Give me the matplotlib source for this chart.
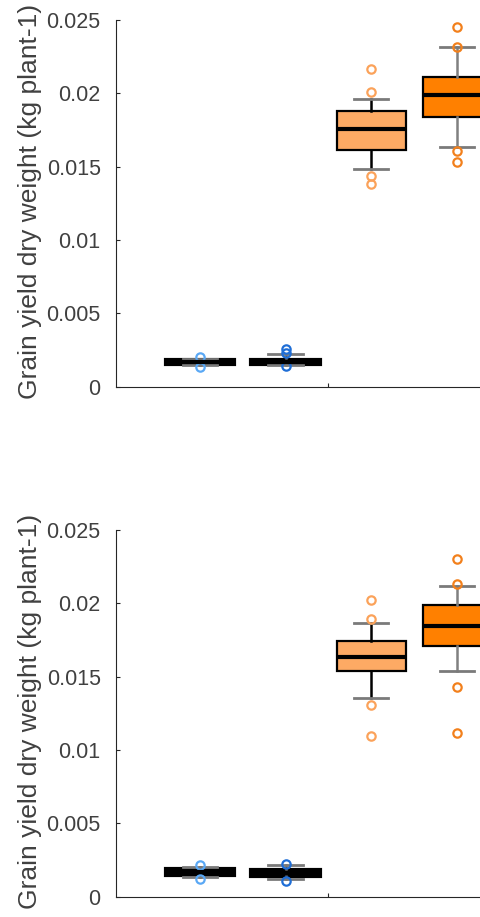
import matplotlib
matplotlib.use('Agg')
import matplotlib.pyplot as plt

plt.rcParams['font.family'] = ['Liberation Sans', 'DejaVu Sans']

# Box statistics (kg per plant)
groups = ['blue light', 'blue dark', 'orange light', 'orange dark']
positions = [1, 2, 3, 4]

# top panel
top_med = [0.00166, 0.00166, 0.01755, 0.01989]
top_q1 = [0.00155, 0.00152, 0.01614, 0.01841]
top_q3 = [0.00180, 0.00180, 0.01882, 0.02113]
top_wlo = [0.00145, 0.00148, 0.01484, 0.01636]
top_whi = [0.00190, 0.00221, 0.01961, 0.02314]
top_fliers = [[0.00205, 0.00136],
              [0.00255, 0.00228, 0.00141],
              [0.02166, 0.02007, 0.01436, 0.01380],
              [0.02454, 0.02314, 0.01609, 0.01534]]

# bottom panel
bot_med = [0.00166, 0.00160, 0.01636, 0.01846]
bot_q1 = [0.00150, 0.00142, 0.01539, 0.01711]
bot_q3 = [0.00190, 0.00180, 0.01743, 0.01989]
bot_wlo = [0.00132, 0.00119, 0.01353, 0.01539]
bot_whi = [0.00200, 0.00216, 0.01864, 0.02118]
bot_fliers = [[0.00216, 0.00121],
              [0.00223, 0.00109],
              [0.02023, 0.01893, 0.01307, 0.01096],
              [0.02300, 0.02132, 0.01432, 0.01114]]

yticks = [0, 0.005, 0.01, 0.015, 0.02, 0.025]
ytick_labels = ['0', '0.005', '0.01', '0.015', '0.02', '0.025']
ylabel = 'Grain yield dry weight (kg plant-1)'

box_colors = ['#6AB0F2', '#2A78D6', '#FDAA64', '#FF8000']
flier_colors = ['#5AA8F5', '#1F6ED6', '#FBA25A', '#F2801C']
whisker_colors = ['#000000', '#555555', '#000000', '#808080']


def draw_panel(ax, med, q1, q3, wlo, whi, fliers):
    stats = []
    for i in range(len(med)):
        stats.append({'med': med[i], 'q1': q1[i], 'q3': q3[i],
                      'whislo': wlo[i], 'whishi': whi[i], 'fliers': fliers[i]})
    bp = ax.bxp(stats, positions=positions, widths=0.8, patch_artist=True,
                showfliers=True,
                boxprops=dict(edgecolor='black', linewidth=1.6),
                medianprops=dict(color='black', linewidth=3),
                capprops=dict(color='#7a7a7a', linewidth=2),
                capwidths=0.4)
    for i, patch in enumerate(bp['boxes']):
        patch.set_facecolor(box_colors[i])
    for i in range(len(med)):
        for w in bp['whiskers'][2 * i:2 * i + 2]:
            w.set_color(whisker_colors[i])
            w.set_linewidth(1.8)
        f = bp['fliers'][i]
        f.set_marker('o')
        f.set_markersize(6)
        f.set_markerfacecolor('none')
        f.set_markeredgecolor(flier_colors[i])
        f.set_markeredgewidth(1.6)
    # blue boxes are so flat they look like thick black bars
    for i in range(2):
        bp['boxes'][i].set_linewidth(3)

    ax.set_xlim(0.02, 5)
    ax.set_ylim(0, 0.025)
    ax.set_yticks(yticks)
    ax.set_yticklabels(ytick_labels)
    ax.set_xticks([2.5])
    ax.set_xticklabels([''])
    ax.tick_params(direction='in', length=3, width=0.8, colors='#262626',
                   labelcolor='#404040', labelsize=15.5, pad=11)
    ax.spines['top'].set_visible(False)
    ax.spines['right'].set_visible(False)
    ax.spines['left'].set_color('#262626')
    ax.spines['bottom'].set_color('#262626')
    ax.set_ylabel(ylabel, fontsize=19, color='#404040')
    ax.yaxis.set_label_coords(-0.1735, 0.505)


fig = plt.figure(figsize=(4.81, 9.17), dpi=100)
W, H = 481.0, 917.0
ax_w = 4.98 * 85.67 / W
ax1 = fig.add_axes([116 / W, 1 - 386.7 / H, ax_w, 366.7 / H])
ax2 = fig.add_axes([116 / W, 1 - 896.7 / H, ax_w, 366.7 / H])

draw_panel(ax1, top_med, top_q1, top_q3, top_wlo, top_whi, top_fliers)
draw_panel(ax2, bot_med, bot_q1, bot_q3, bot_wlo, bot_whi, bot_fliers)

fig.savefig('out.png', dpi=100)
